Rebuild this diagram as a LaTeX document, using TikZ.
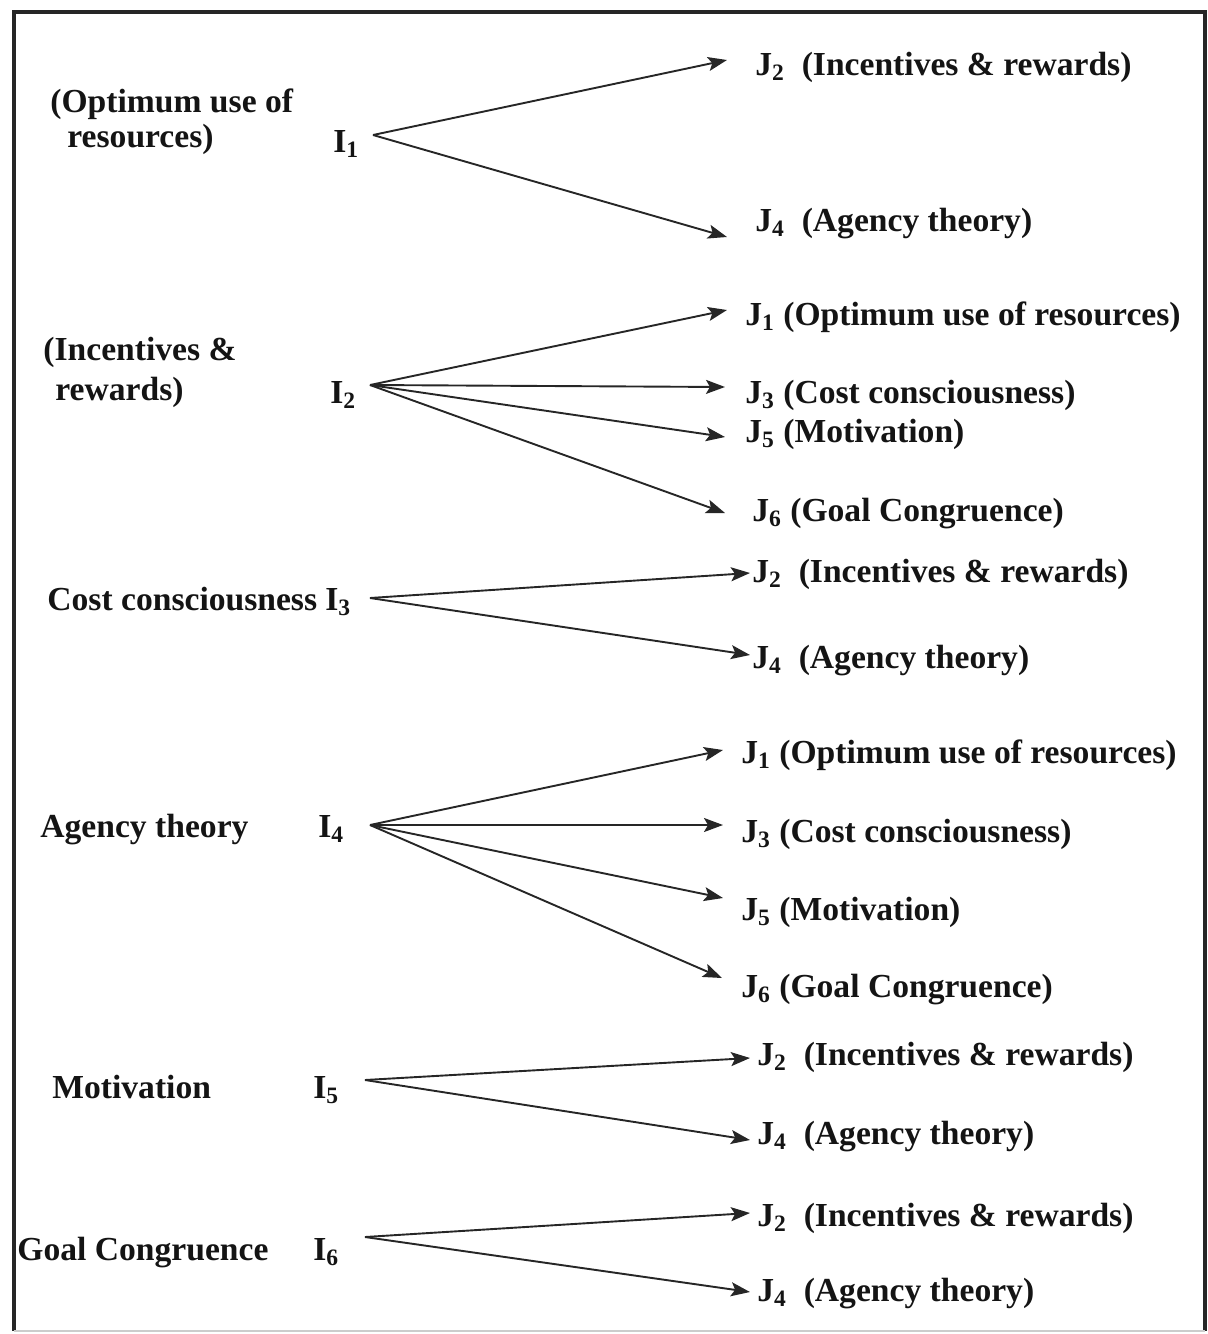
\documentclass[tikz,border=0pt]{standalone}
\usepackage{fontspec}
\setmainfont{Liberation Serif}
\usetikzlibrary{arrows.meta}
\tikzstyle{lab}=[inner sep=0pt, anchor=base west, text=black!92,
  font=\fontsize{16.8}{19}\selectfont\bfseries]
\tikzstyle{leftlab}=[lab, anchor=west, align=left]
\tikzstyle{ilab}=[lab]
\tikzstyle{jlab}=[lab]
\tikzstyle{line}=[draw, line width=0.95pt, color=black!85,
  -{Stealth[length=9.5pt,width=7pt,inset=2pt]}]
\tikzstyle{frame}=[draw, line width=1.6pt, color=black!85]
\newcommand{\jlab}[4]{node (#1) [jlab] {J\textsubscript{#2}#3(#4)}}
\newcommand{\ilab}[2]{node (#1) [ilab] {I\textsubscript{#2}}}

\begin{document}
\begin{tikzpicture}[x=0.5pt, y=-0.5pt]
  \useasboundingbox (0,0) rectangle (1208,1334);
  % Frame
  \path [frame] (14,1331) -- (14,12) -- (1205,12) -- (1205,1331);
  \path [draw, color=black!20, line width=0.6pt] (14,1331) -- (1205,1331);

  % Left labels
  \node (l1) [leftlab] at (50,122) {(Optimum use of\\[-1.5pt]\hspace{8.5pt}resources)};
  \node (l2) [leftlab] at (43,372) {(Incentives \&\\[1pt]\hspace{6pt}rewards)};
  \node (l3) [lab] at (47,610) {Cost consciousness};
  \node (l4) [lab] at (40,837) {Agency theory};
  \node (l5) [lab] at (52,1098) {Motivation};
  \node (l6) [lab] at (17,1260) {Goal Congruence};

  % I labels
  \path (333,152) \ilab{i1}{1};
  \path (330,403) \ilab{i2}{2};
  \path (325,610) \ilab{i3}{3};
  \path (318,837) \ilab{i4}{4};
  \path (313,1098) \ilab{i5}{5};
  \path (313,1260) \ilab{i6}{6};

  % J labels
  \path (755,75) \jlab{j12}{2}{\ \ }{Incentives \& rewards};
  \path (755,231) \jlab{j14}{4}{\ \ }{Agency theory};
  \path (745,325) \jlab{j21}{1}{ }{Optimum use of resources};
  \path (745,403) \jlab{j23}{3}{ }{Cost consciousness};
  \path (745,442) \jlab{j25}{5}{ }{Motivation};
  \path (752,521) \jlab{j26}{6}{ }{Goal Congruence};
  \path (752,582) \jlab{j32}{2}{\ \ }{Incentives \& rewards};
  \path (752,668) \jlab{j34}{4}{\ \ }{Agency theory};
  \path (741,763) \jlab{j41}{1}{ }{Optimum use of resources};
  \path (741,842) \jlab{j43}{3}{ }{Cost consciousness};
  \path (741,920) \jlab{j45}{5}{ }{Motivation};
  \path (741,997) \jlab{j46}{6}{ }{Goal Congruence};
  \path (757,1065) \jlab{j52}{2}{\ \ }{Incentives \& rewards};
  \path (757,1144) \jlab{j54}{4}{\ \ }{Agency theory};
  \path (757,1226) \jlab{j62}{2}{\ \ }{Incentives \& rewards};
  \path (757,1301) \jlab{j64}{4}{\ \ }{Agency theory};

  % Fan points and arrow tips
  \coordinate (s1) at (373,135);
  \coordinate (s2) at (370,385);
  \coordinate (s3) at (370,598);
  \coordinate (s4) at (370,825);
  \coordinate (s5) at (365,1080);
  \coordinate (s6) at (365,1237);
  \coordinate (t12) at (727,60);
  \coordinate (t14) at (727,237);
  \coordinate (t21) at (727,310);
  \coordinate (t23) at (725,387);
  \coordinate (t25) at (725,437);
  \coordinate (t26) at (725,513);
  \coordinate (t32) at (750,573);
  \coordinate (t34) at (750,655);
  \coordinate (t41) at (723,750);
  \coordinate (t43) at (723,825);
  \coordinate (t45) at (723,898);
  \coordinate (t46) at (722,978);
  \coordinate (t52) at (750,1058);
  \coordinate (t54) at (750,1140);
  \coordinate (t62) at (750,1213);
  \coordinate (t64) at (750,1292);

  % Draw arrows
  \path [line] (s1) -- (t12);
  \path [line] (s1) -- (t14);
  \path [line] (s2) -- (t21);
  \path [line] (s2) -- (t23);
  \path [line] (s2) -- (t25);
  \path [line] (s2) -- (t26);
  \path [line] (s3) -- (t32);
  \path [line] (s3) -- (t34);
  \path [line] (s4) -- (t41);
  \path [line] (s4) -- (t43);
  \path [line] (s4) -- (t45);
  \path [line] (s4) -- (t46);
  \path [line] (s5) -- (t52);
  \path [line] (s5) -- (t54);
  \path [line] (s6) -- (t62);
  \path [line] (s6) -- (t64);
\end{tikzpicture}
\end{document}
